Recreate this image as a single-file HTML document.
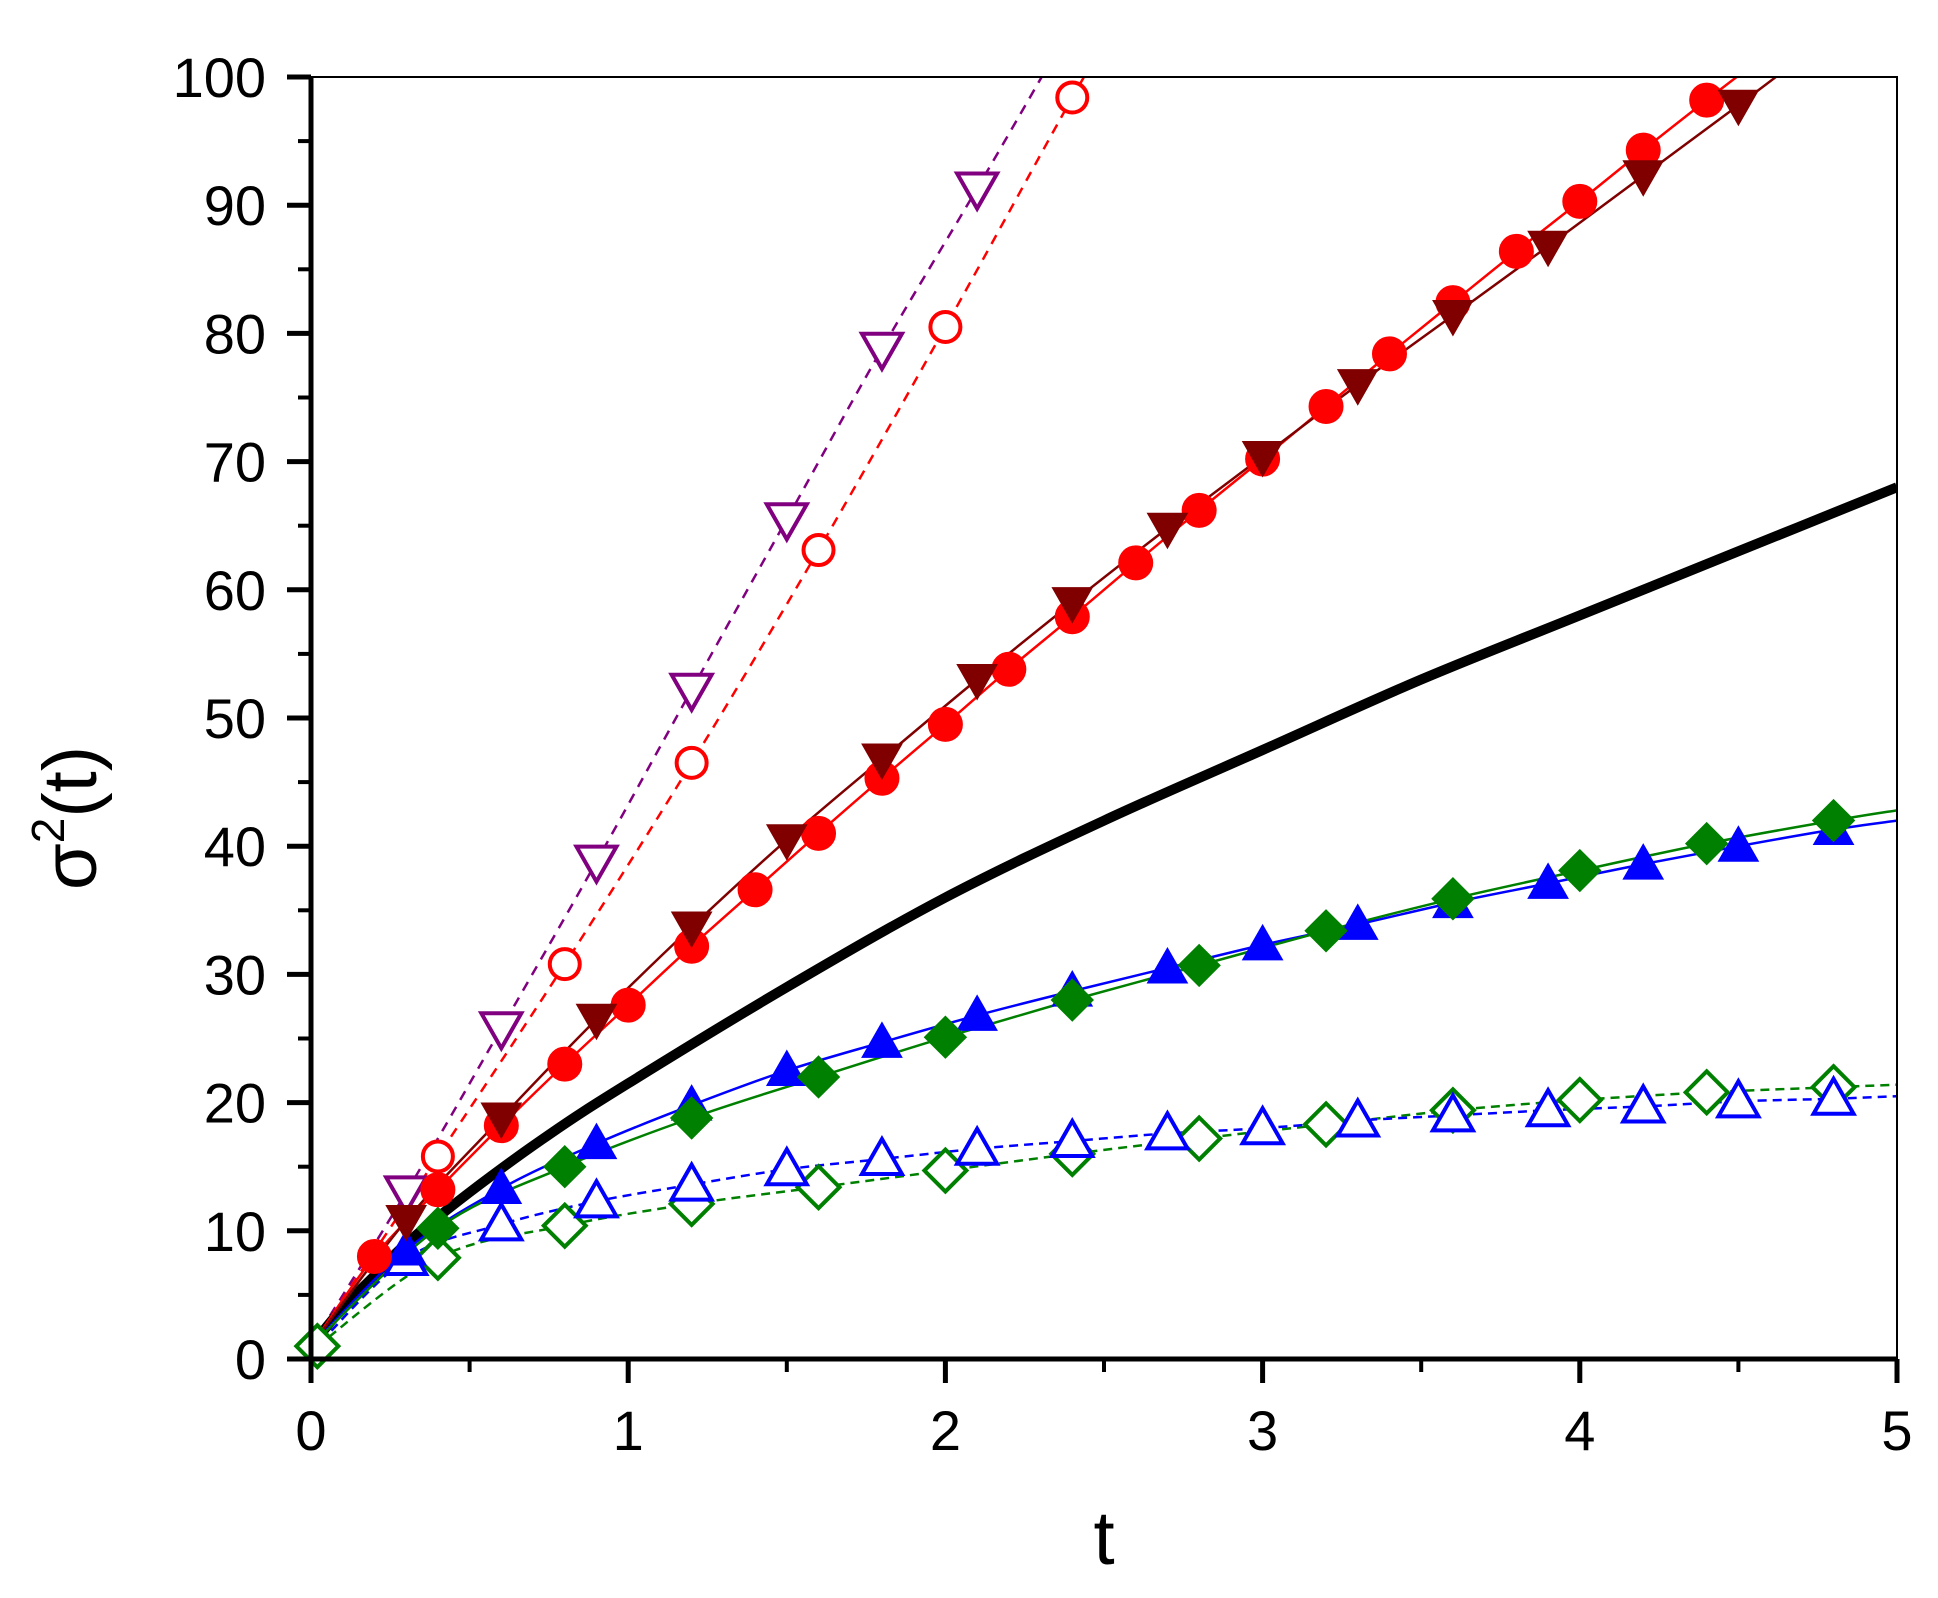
<!DOCTYPE html>
<html><head><meta charset="utf-8"><style>
html,body{margin:0;padding:0;background:#fff;}
svg{display:block;font-family:"Liberation Sans",Arial,sans-serif;}
</style></head><body>
<svg id="chart" width="1938" height="1598" viewBox="0 0 1938 1598" xmlns="http://www.w3.org/2000/svg">
<g id="plot"></g>
<g id="axes"></g>
<text transform="translate(96,818) rotate(-90)" text-anchor="middle" font-size="76">σ<tspan font-size="46" dy="-32">2</tspan><tspan dy="32">(t)</tspan></text>
<text x="1104" y="1564" text-anchor="middle" font-size="76">t</text>
</svg>
<script>
const xTicks=[0,1,2,3,4,5];
const yTicks=[0,10,20,30,40,50,60,70,80,90,100];
const blackT=[0,0.1,0.2,0.3,0.5,0.75,1,1.5,2,2.5,3,3.5,4,4.5,5];
const blackY=[1,4,6.5,9,13,17.5,21.5,29,36,42,47.5,53,58,63,68];
const redFT=[0,0.2,0.4,0.6,0.8,1.0,1.2,1.4,1.6,1.8,2.0,2.2,2.4,2.6,2.8,3.0,3.2,3.4,3.6,3.8,4.0,4.2,4.4,4.6];
const redFY=[1,8,13.2,18.2,23,27.6,32.2,36.6,41,45.3,49.5,53.8,57.9,62.1,66.2,70.2,74.3,78.4,82.4,86.4,90.3,94.3,98.2,102];
const brownT=[0,0.3,0.6,0.9,1.2,1.5,1.8,2.1,2.4,2.7,3.0,3.3,3.6,3.9,4.2,4.5,4.65];
const brownY=[1,10.8,18.8,26.5,33.7,40.5,46.8,53,59,64.8,70.4,76,81.4,86.8,92.3,97.8,100.6];
const redOT=[0,0.4,0.8,1.2,1.6,2.0,2.4,2.5];
const redOY=[1,15.8,30.8,46.5,63.1,80.5,98.4,102.5];
const purpT=[0,0.3,0.6,0.9,1.2,1.5,1.8,2.1,2.35];
const purpY=[1,13,25.8,38.8,52.2,65.5,78.8,91.3,102];
const blueFT=[0,0.3,0.6,0.9,1.2,1.5,1.8,2.1,2.4,2.7,3.0,3.3,3.6,3.9,4.2,4.5,4.8,5];
const blueFY=[1,8.5,13.3,16.8,19.8,22.5,24.7,26.8,28.7,30.5,32.3,33.9,35.6,37.1,38.6,40,41.3,42];
const greenFT=[0,0.4,0.8,1.2,1.6,2.0,2.4,2.8,3.2,3.6,4.0,4.4,4.8,5];
const greenFY=[1,10.2,15,18.8,22,25.1,28,30.7,33.4,35.9,38.1,40.2,42,42.8];
const blueOT=[0,0.3,0.6,0.9,1.2,1.5,1.8,2.1,2.4,2.7,3.0,3.3,3.6,3.9,4.2,4.5,4.8,5];
const blueOY=[0.5,7.8,10.5,12.3,13.6,14.8,15.6,16.4,17,17.6,18,18.6,19,19.4,19.7,20.1,20.3,20.5];
const greenOT=[0.02,0.4,0.8,1.2,1.6,2.0,2.4,2.8,3.2,3.6,4.0,4.4,4.8,5];
const greenOY=[1,7.9,10.4,12.1,13.4,14.7,16,17.2,18.3,19.4,20.2,20.8,21.2,21.4];

const X0=311,X1=1897,Y0=1359,Y1=77;
function sx(v){return X0+(X1-X0)*v/5;}
function sy(v){return Y0-(Y0-Y1)*v/100;}
const NS="http://www.w3.org/2000/svg";
const plot=document.getElementById('plot');
const axes=document.getElementById('axes');
function mk(tag,attrs,parent){const e=document.createElementNS(NS,tag);for(const k in attrs)e.setAttribute(k,attrs[k]);parent.appendChild(e);return e;}

const defs=mk('defs',{},plot);
const cp=mk('clipPath',{id:'clip'},defs);
mk('rect',{x:X0,y:Y1,width:X1-X0,height:Y0-Y1},cp);
const g=mk('g',{'clip-path':'url(#clip)'},plot);

function smoothPath(P){
  let d=`M${P[0][0]},${P[0][1]}`;
  for(let i=0;i<P.length-1;i++){
    const p0=P[i-1]||P[i],p1=P[i],p2=P[i+1],p3=P[i+2]||P[i+1];
    const c1=[p1[0]+(p2[0]-p0[0])/6,p1[1]+(p2[1]-p0[1])/6];
    const c2=[p2[0]-(p3[0]-p1[0])/6,p2[1]-(p3[1]-p1[1])/6];
    d+=` C${c1[0].toFixed(1)},${c1[1].toFixed(1)} ${c2[0].toFixed(1)},${c2[1].toFixed(1)} ${p2[0].toFixed(1)},${p2[1].toFixed(1)}`;
  }
  return d;
}

function series(name,T,Y,color,width,dash,marker,filled,skipFirst,skipLast){
  const P=T.map((t,i)=>[sx(t),sy(Y[i])]);
  const line=mk('path',{d:smoothPath(P),fill:'none',stroke:color,'stroke-width':width,'stroke-linejoin':'round'},g);
  if(dash)line.setAttribute('stroke-dasharray',dash);
  
  
  if(!marker)return;
  for(let i=0;i<T.length;i++){
    if(skipFirst&&i===0)continue;
    if(skipLast&&i===T.length-1)continue;
    const x=sx(T[i]),y=sy(Y[i]);let m;
    const st={fill:filled?color:'#fff',stroke:color,'stroke-width':filled?1:4};
    if(marker==='circle'){m=mk('circle',Object.assign({cx:x,cy:y,r:filled?17:15},st),plot);}
    else if(marker==='down'){m=mk('polygon',Object.assign({points:`${x-20},${y-15} ${x+20},${y-15} ${x},${y+20}`},st),plot);}
    else if(marker==='up'){m=mk('polygon',Object.assign({points:`${x-20},${y+15} ${x+20},${y+15} ${x},${y-20}`},st),plot);}
    else if(marker==='diamond'){m=mk('polygon',Object.assign({points:`${x},${y-21} ${x+21},${y} ${x},${y+21} ${x-21},${y}`},st),plot);}
    
    
  }
}
series('purple-open-triangle',purpT,purpY,'#800080',2.5,'10,8','down',false,true,true);
series('red-open-circle',redOT,redOY,'#ff0000',2.5,'10,8','circle',false,true,true);
series('black-curve',blackT,blackY,'#000',10,null,null,true);
series('green-open-diamond',greenOT,greenOY,'#008000',2.5,'9,6','diamond',false,false,true);
series('blue-open-triangle',blueOT,blueOY,'#0000ff',2.5,'9,6','up',false,true,true);
series('blue-filled-triangle',blueFT,blueFY,'#0000ff',2.5,null,'up',true,true,true);
series('green-filled-diamond',greenFT,greenFY,'#008000',2.5,null,'diamond',true,true,true);
series('red-filled-circle',redFT,redFY,'#ff0000',2.5,null,'circle',true,true,true);
series('brown-filled-triangle',brownT,brownY,'#800000',2.5,null,'down',true,true,true);

mk('rect',{x:X0,y:Y1,width:X1-X0,height:Y0-Y1,fill:'none',stroke:'#000','stroke-width':2},axes);
let l=mk('line',{x1:X0,y1:Y1-1,x2:X0,y2:Y0+2,stroke:'#000','stroke-width':5},axes);


l=mk('line',{x1:X0-2,y1:Y0,x2:X1+1,y2:Y0,stroke:'#000','stroke-width':5},axes);


for(let i=0;i<yTicks.length;i++){
  const y=sy(yTicks[i]);
  mk('line',{x1:X0-24,y1:y,x2:X0,y2:y,stroke:'#000','stroke-width':5},axes);
  if(i<yTicks.length-1)mk('line',{x1:X0-13,y1:sy(yTicks[i]+5),x2:X0,y2:sy(yTicks[i]+5),stroke:'#000','stroke-width':4},axes);
  const t=mk('text',{x:266,y:y+20,'text-anchor':'end','font-size':56},axes);
  t.textContent=yTicks[i];
  
  
}
for(let i=0;i<xTicks.length;i++){
  const x=sx(xTicks[i]);
  mk('line',{x1:x,y1:Y0,x2:x,y2:Y0+24,stroke:'#000','stroke-width':5},axes);
  if(i<xTicks.length-1)mk('line',{x1:sx(xTicks[i]+0.5),y1:Y0,x2:sx(xTicks[i]+0.5),y2:Y0+13,stroke:'#000','stroke-width':4},axes);
  const t=mk('text',{x:x,y:1450,'text-anchor':'middle','font-size':56},axes);
  t.textContent=xTicks[i];
  
  
}
</script>
</body></html>
